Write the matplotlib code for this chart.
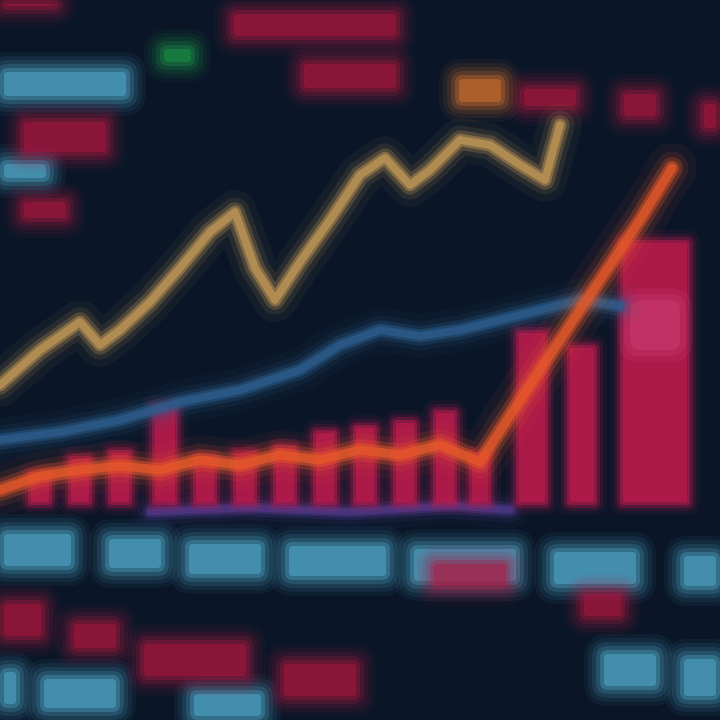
import matplotlib
matplotlib.use("Agg")
import matplotlib.pyplot as plt
from matplotlib.patches import FancyBboxPatch

# ---- data (in screen units, y grows downward) ----
gold_x = [0, 40, 80, 100, 120, 150, 180, 210, 235, 255, 275, 300, 330, 360, 385, 410, 430, 460, 490, 520, 545, 560]
gold_y = [385, 350, 322, 345, 330, 302, 268, 232, 212, 268, 300, 262, 220, 175, 158, 185, 170, 140, 145, 165, 180, 125]

blue_x = [0, 60, 120, 180, 240, 300, 340, 380, 420, 460, 500, 540, 580, 620]
blue_y = [440, 432, 420, 402, 390, 370, 345, 330, 336, 330, 320, 310, 300, 306]

orange_x = [0, 40, 80, 120, 160, 200, 240, 280, 320, 360, 400, 440, 480, 520, 560, 600, 640, 672]
orange_y = [490, 476, 470, 466, 470, 460, 465, 455, 460, 450, 455, 445, 462, 400, 340, 280, 220, 168]

purple_x = [150, 250, 350, 450, 510]
purple_y = [512, 508, 512, 506, 510]

bar_x = [40, 80, 120, 165, 205, 245, 285, 325, 365, 405, 445, 480, 532, 582, 655]
bar_top = [472, 456, 450, 405, 456, 450, 445, 430, 425, 420, 410, 452, 330, 345, 240]
bar_w = [24, 24, 24, 26, 24, 24, 24, 24, 24, 24, 24, 22, 32, 30, 70]
bar_base = 505

# ticker boards: (x0, x1, y0, y1)
cyan_blocks = [(0, 75, 530, 570), (105, 165, 535, 572), (185, 265, 540, 578), (285, 390, 542, 580),
               (410, 520, 545, 585), (550, 640, 548, 588), (680, 720, 552, 590),
               (0, 20, 668, 708), (40, 120, 675, 712), (190, 265, 690, 720), (600, 660, 650, 690),
               (680, 720, 655, 700), (0, 130, 68, 100), (0, 50, 160, 182)]
red_blocks = [(0, 45, 600, 640), (70, 120, 620, 652), (140, 250, 640, 680), (280, 360, 660, 700),
              (430, 510, 560, 590), (580, 625, 590, 620), (20, 110, 118, 156), (0, 60, 0, 10),
              (230, 400, 10, 40), (300, 400, 60, 92), (520, 580, 85, 110), (620, 660, 90, 120),
              (700, 720, 100, 132), (20, 70, 198, 222)]
green_blocks = [(160, 195, 45, 66)]
orange_blocks = [(455, 505, 75, 106)]

# ---- drawing ----
fig = plt.figure(figsize=(7.2, 7.2), dpi=100)
fig.patch.set_facecolor("#0a1628")
ax = fig.add_axes([0, 0, 1, 1])
ax.set_facecolor("#0a1a2f")
ax.set_xlim(0, 720)
ax.set_ylim(720, 0)
ax.axis("off")

BLUR = [(16, 0.06), (12, 0.08), (8, 0.12), (4, 0.18), (0, 0.3), (-4, 0.45)]


def soft_block(b, color, z=1):
    x0, x1, y0, y1 = b
    for grow, alpha in BLUR:
        w = (x1 - x0) + 2 * grow
        h = (y1 - y0) + 2 * grow
        if w <= 0 or h <= 0:
            continue
        p = FancyBboxPatch((x0 - grow, y0 - grow), w, h,
                           boxstyle="round,pad=0,rounding_size=%d" % max(2, 8 + grow),
                           facecolor=color, edgecolor="none", alpha=alpha, zorder=z)
        ax.add_patch(p)


for b in cyan_blocks:
    soft_block(b, "#58b6d8")
for b in red_blocks:
    soft_block(b, "#b3163f")
for b in green_blocks:
    soft_block(b, "#1e9a4a")
for b in orange_blocks:
    soft_block(b, "#e2782e")


def glow_line(xs, ys, color, lw, z):
    for w, alpha in [(lw * 4.5, 0.06), (lw * 3, 0.12), (lw * 2, 0.25), (lw * 1.3, 0.45), (lw * 0.8, 0.7)]:
        ax.plot(xs, ys, color=color, lw=w, alpha=alpha, solid_capstyle="round",
                solid_joinstyle="round", zorder=z)


# bars
for x, t, w in zip(bar_x, bar_top, bar_w):
    for grow, alpha in [(10, 0.08), (6, 0.14), (3, 0.25), (0, 0.45), (-3, 0.55)]:
        ax.add_patch(FancyBboxPatch((x - w / 2 - grow, t - grow), w + 2 * grow, bar_base - t + 2 * grow,
                                    boxstyle="round,pad=0,rounding_size=%d" % max(2, 4 + grow),
                                    facecolor="#c81a50", edgecolor="none", alpha=alpha, zorder=3))
# pink sheen on tall bar
for grow, alpha in [(12, 0.1), (6, 0.15), (0, 0.2)]:
    ax.add_patch(FancyBboxPatch((630 - grow, 300 - grow), 50 + 2 * grow, 50 + 2 * grow,
                                boxstyle="round,pad=0,rounding_size=%d" % (10 + grow),
                                facecolor="#e65a90", edgecolor="none", alpha=alpha, zorder=3))

glow_line(purple_x, purple_y, "#4a3a8a", 6, 2)
glow_line(blue_x, blue_y, "#2d5e8e", 7, 4)
glow_line(gold_x, gold_y, "#c49a58", 7, 5)
glow_line(orange_x, orange_y, "#e85a2a", 8, 6)

fig.savefig("out.png", dpi=100, facecolor=fig.get_facecolor())
